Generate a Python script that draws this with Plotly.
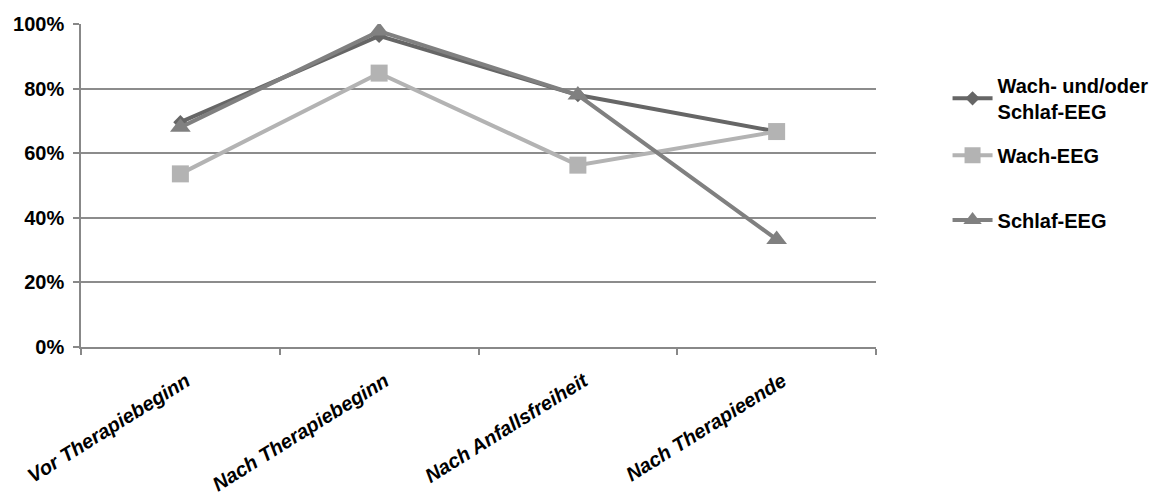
import plotly.graph_objects as go

categories = ["Vor Therapiebeginn", "Nach Therapiebeginn", "Nach Anfallsfreiheit", "Nach Therapieende"]
wach_oder_schlaf = [0.696, 0.963, 0.78, 0.667]
wach = [0.536, 0.848, 0.563, 0.667]
schlaf = [0.68, 0.978, 0.78, 0.333]
y_ticks = [0, 0.2, 0.4, 0.6, 0.8, 1.0]
y_labels = ["0%", "20%", "40%", "60%", "80%", "100%"]

FONT = "Liberation Sans, Arial"
LEGFONT = dict(size=20, family=FONT, color="black", weight="bold")

fig = go.Figure()
fig.add_trace(go.Scatter(
    x=[0, 1, 2, 3], y=wach_oder_schlaf, name="Wach- und/oder<br>Schlaf-EEG",
    mode="lines+markers", legend="legend", showlegend=True,
    line=dict(color="#666666", width=4),
    marker=dict(symbol="diamond", size=11, color="#666666")))
fig.add_trace(go.Scatter(
    x=[0, 1, 2, 3], y=wach, name="Wach-EEG",
    mode="lines+markers", legend="legend2", showlegend=True,
    line=dict(color="#b3b3b3", width=4),
    marker=dict(symbol="square", size=17, color="#b3b3b3")))
fig.add_trace(go.Scatter(
    x=[0, 1, 2, 3], y=schlaf, name="Schlaf-EEG",
    mode="lines+markers", legend="legend3", showlegend=True,
    line=dict(color="#808080", width=4),
    marker=dict(symbol="triangle-up", size=18, color="#808080")))

def leg(y):
    return dict(x=1.09, y=y, xanchor="left", yanchor="middle", font=LEGFONT,
                itemwidth=40, bgcolor="rgba(0,0,0,0)", borderwidth=0)

fig.update_layout(
    width=1164, height=489, showlegend=True,
    margin=dict(l=73, r=296, t=16, b=150, autoexpand=False),
    plot_bgcolor="white", paper_bgcolor="white",
    font=dict(family=FONT, color="black"),
    legend=leg(0.77), legend2=leg(0.594), legend3=leg(0.393),
    xaxis=dict(
        range=[-0.5, 3.5], tickvals=[0, 1, 2, 3], ticktext=categories,
        tickangle=-32, showgrid=False, showline=True, linecolor="#888888", linewidth=1.5,
        ticks="", zeroline=False, automargin=False,
        ticklabelstandoff=13, ticklabelshift=6,
        tickfont=dict(size=20, family=FONT, color="black", weight="bold", style="italic"),
        minor=dict(tickvals=[-0.5, 0.5, 1.5, 2.5, 3.5], ticks="outside", ticklen=6, tickcolor="#888888", tickwidth=1.5),
    ),
    yaxis=dict(
        range=[0, 1.0], tickvals=y_ticks, ticktext=y_labels,
        showgrid=True, gridcolor="#8c8c8c", gridwidth=1.5,
        showline=True, linecolor="#888888", linewidth=1.5,
        ticks="outside", ticklen=6, tickcolor="#888888", tickwidth=1.5,
        zeroline=False, automargin=False, ticklabelstandoff=5,
        tickfont=dict(size=20, family=FONT, color="black", weight="bold"),
    ),
)

fig.write_html("out.html")
